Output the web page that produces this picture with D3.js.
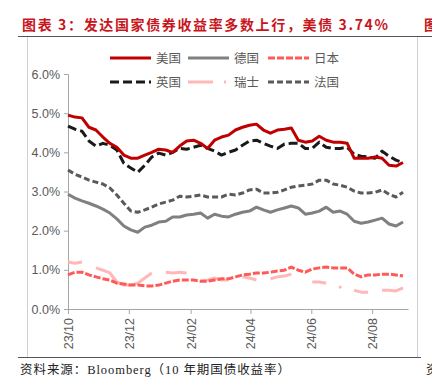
<!DOCTYPE html>
<html><head><meta charset="utf-8">
<script src="https://cdn.jsdelivr.net/npm/d3@7/dist/d3.min.js"></script>
<style>body{margin:0;background:#fff;overflow:hidden}svg{display:block}</style>
</head><body><svg id="c" width="432" height="386"></svg>
<script>
const dates = ["2023-10-01","2023-10-08","2023-10-15","2023-10-22","2023-10-29","2023-11-05","2023-11-12","2023-11-19","2023-11-26",
"2023-12-03","2023-12-10","2023-12-17","2023-12-24","2023-12-31","2024-01-07","2024-01-14","2024-01-21","2024-01-28",
"2024-02-04","2024-02-11","2024-02-18","2024-02-25","2024-03-03","2024-03-10","2024-03-17","2024-03-24","2024-03-31",
"2024-04-07","2024-04-14","2024-04-21","2024-04-28","2024-05-05","2024-05-12","2024-05-19","2024-05-26",
"2024-06-02","2024-06-09","2024-06-16","2024-06-23","2024-06-30","2024-07-07","2024-07-14","2024-07-21","2024-07-28",
"2024-08-04","2024-08-11","2024-08-18","2024-08-25","2024-09-01"];
const us = [4.95,4.90,4.88,4.64,4.57,4.39,4.23,4.13,3.93,3.85,3.85,3.93,4.00,4.08,4.06,4.00,4.16,4.29,4.31,4.23,4.10,4.31,4.39,4.44,4.57,4.64,4.69,4.72,4.57,4.49,4.57,4.59,4.62,4.31,4.26,4.29,4.41,4.31,4.26,4.26,4.23,3.85,3.85,3.85,3.88,3.85,3.67,3.65,3.74];
const uk = [4.67,4.59,4.54,4.29,4.16,4.23,4.18,4.06,3.72,3.60,3.49,3.67,3.88,3.98,3.93,4.00,4.10,4.08,4.13,4.18,4.10,4.03,3.93,4.00,4.06,4.18,4.29,4.31,4.23,4.16,4.10,4.21,4.23,4.23,4.10,4.10,4.26,4.13,4.10,4.10,4.13,3.95,3.90,3.88,3.85,4.03,3.90,3.80,3.74];
const de = [2.93,2.83,2.76,2.70,2.63,2.55,2.45,2.30,2.12,2.02,1.96,2.09,2.14,2.22,2.24,2.35,2.35,2.40,2.42,2.45,2.32,2.42,2.37,2.35,2.42,2.47,2.50,2.60,2.53,2.47,2.53,2.58,2.63,2.58,2.42,2.45,2.50,2.60,2.47,2.50,2.42,2.24,2.19,2.22,2.27,2.32,2.17,2.12,2.22];
const jp = [0.87,0.94,0.94,0.87,0.82,0.77,0.74,0.66,0.64,0.61,0.61,0.59,0.59,0.61,0.66,0.71,0.74,0.74,0.74,0.71,0.71,0.74,0.77,0.77,0.82,0.87,0.89,0.92,0.92,0.94,0.97,0.99,1.07,0.99,0.94,1.02,1.05,1.07,1.05,1.05,1.05,0.89,0.82,0.87,0.87,0.89,0.89,0.87,0.84];
const ch = [1.20,1.17,1.20,null,1.05,0.99,0.92,0.69,0.61,0.61,0.66,0.79,0.92,null,0.94,0.92,0.94,0.92,null,0.71,0.74,0.79,0.74,0.74,null,0.82,0.79,0.74,null,0.77,0.82,0.84,0.89,null,null,0.69,0.69,0.66,null,0.56,null,0.48,0.43,0.43,null,0.48,0.48,0.46,0.54];
const fr = [3.55,3.44,3.37,3.29,3.24,3.19,3.09,2.91,2.70,2.50,2.47,2.53,2.60,2.68,2.73,2.78,2.88,2.86,2.88,2.91,2.86,2.86,2.86,2.93,2.91,2.96,3.04,3.06,2.96,2.96,2.98,3.04,3.11,3.14,3.16,3.19,3.29,3.29,3.19,3.16,3.11,3.01,2.96,2.96,2.98,3.04,2.93,2.86,2.98];
const yTicks = [0,1,2,3,4,5,6];
const xTicks = ["2023-10-01","2023-12-01","2024-02-01","2024-04-01","2024-06-01","2024-08-01"];
const seriesNames = ["美国","德国","日本","英国","瑞士","法国"];
const title = "图表 3：发达国家债券收益率多数上行，美债 3.74%";
const source = "资料来源：Bloomberg（10 年期国债收益率）";

const parse = d3.utcParse("%Y-%m-%d");
const svg = d3.select("#c");
const x = d3.scaleUtc().domain([parse("2023-10-01"), parse("2024-09-06")]).range([68, 408]);
const y = d3.scaleLinear().domain([0, 6]).range([309, 74]);
const axisCol = "#a6a6a6", txtCol = "#595959";

// frame
svg.append("line").attr("x1",18).attr("x2",432).attr("y1",36.5).attr("y2",36.5).attr("stroke","#555").attr("stroke-width",1);
svg.append("line").attr("x1",18).attr("x2",421).attr("y1",357.5).attr("y2",357.5).attr("stroke","#555").attr("stroke-width",1);
svg.append("line").attr("x1",27.5).attr("x2",27.5).attr("y1",37).attr("y2",357).attr("stroke","#d0d0d0");
svg.append("line").attr("x1",417.5).attr("x2",417.5).attr("y1",37).attr("y2",357).attr("stroke","#d0d0d0");

svg.append("text").attr("x",22).attr("y",30).attr("fill","#c8161d").attr("font-family","Noto Sans CJK SC").attr("font-size",14).attr("font-weight","bold")
  .attr("textLength",366).attr("lengthAdjust","spacing").text(title);
svg.append("text").attr("x",424).attr("y",30).attr("fill","#c8161d").attr("font-family","Noto Sans CJK SC").attr("font-size",14).attr("font-weight","bold").text("图");
svg.append("text").attr("x",20).attr("y",374).attr("fill","#222").attr("font-family","Liberation Serif, Noto Sans CJK SC").attr("font-size",12.5)
  .attr("textLength",270).attr("lengthAdjust","spacing").text(source);
svg.append("text").attr("x",426).attr("y",374).attr("fill","#222").attr("font-family","Noto Sans CJK SC").attr("font-size",12.5).text("资");

// y axis
const ya = svg.append("g").attr("transform","translate(68,0)").call(d3.axisLeft(y).tickValues(yTicks).tickSize(4).tickFormat(d=>d.toFixed(1)+"%"));
ya.select(".domain").attr("stroke",axisCol);
ya.selectAll(".tick line").attr("stroke",axisCol);
ya.selectAll(".tick text").attr("fill",txtCol).attr("font-family","Liberation Sans, Arial").attr("font-size",12.5).attr("x",-8);

// x axis
const xa = svg.append("g").attr("transform","translate(0,309)").call(d3.axisBottom(x).tickValues(xTicks.map(parse)).tickSize(5).tickSizeOuter(0).tickFormat(d3.utcFormat("%y/%m")));
xa.select(".domain").attr("stroke",axisCol);
xa.selectAll(".tick line").attr("stroke",axisCol);
xa.selectAll(".tick text").attr("fill",txtCol).attr("font-family","Liberation Sans, Arial").attr("font-size",12.5)
  .attr("transform","rotate(-90)").attr("text-anchor","end").attr("x",-9).attr("y",0).attr("dy","0.35em");

const styles = [
  {data:us, color:"#c00000", dash:null},
  {data:de, color:"#808080", dash:null},
  {data:jp, color:"#ff5a5a", dash:"7,2"},
  {data:uk, color:"#1a1a1a", dash:"9,4"},
  {data:ch, color:"#ffb8b8", dash:null},
  {data:fr, color:"#5a5a5a", dash:"6,3"}
];
const drawOrder = [4,2,1,5,3,0];
const line = d3.line().defined(d=>d[1]!=null).x(d=>x(d[0])).y(d=>y(d[1]));
drawOrder.forEach(i=>{
  const s = styles[i];
  const pts = dates.map((d,k)=>[parse(d), s.data[k]]);
  const p = svg.append("path").datum(pts).attr("d",line).attr("fill","none").attr("stroke",s.color).attr("stroke-width",3).attr("stroke-linejoin","round");
  if (s.dash) p.attr("stroke-dasharray",s.dash);
  const iso = pts.filter((p,k)=>p[1]!=null && (k==0||pts[k-1][1]==null) && (k==pts.length-1||pts[k+1][1]==null));
  svg.selectAll(null).data(iso).enter().append("circle").attr("cx",d=>x(d[0])).attr("cy",d=>y(d[1])).attr("r",1.6).attr("fill",s.color);
});

// legend
const lx = [110,188,268], ly = [58,82];
seriesNames.forEach((n,i)=>{
  const s = styles[i], cx = lx[i%3], cy = ly[Math.floor(i/3)];
  const l = svg.append("line").attr("x1",cx).attr("x2",cx+41).attr("y1",cy).attr("y2",cy).attr("stroke",s.color).attr("stroke-width",3);
  if (s.dash) l.attr("stroke-dasharray",s.dash);
  if (i==4) l.attr("stroke-dasharray","25,11,2,20");
  svg.append("text").attr("x",cx+46).attr("y",cy).attr("dy","0.36em").attr("fill",txtCol).attr("font-family","Noto Sans CJK SC").attr("font-size",12.5).text(n);
});
</script></body></html>
